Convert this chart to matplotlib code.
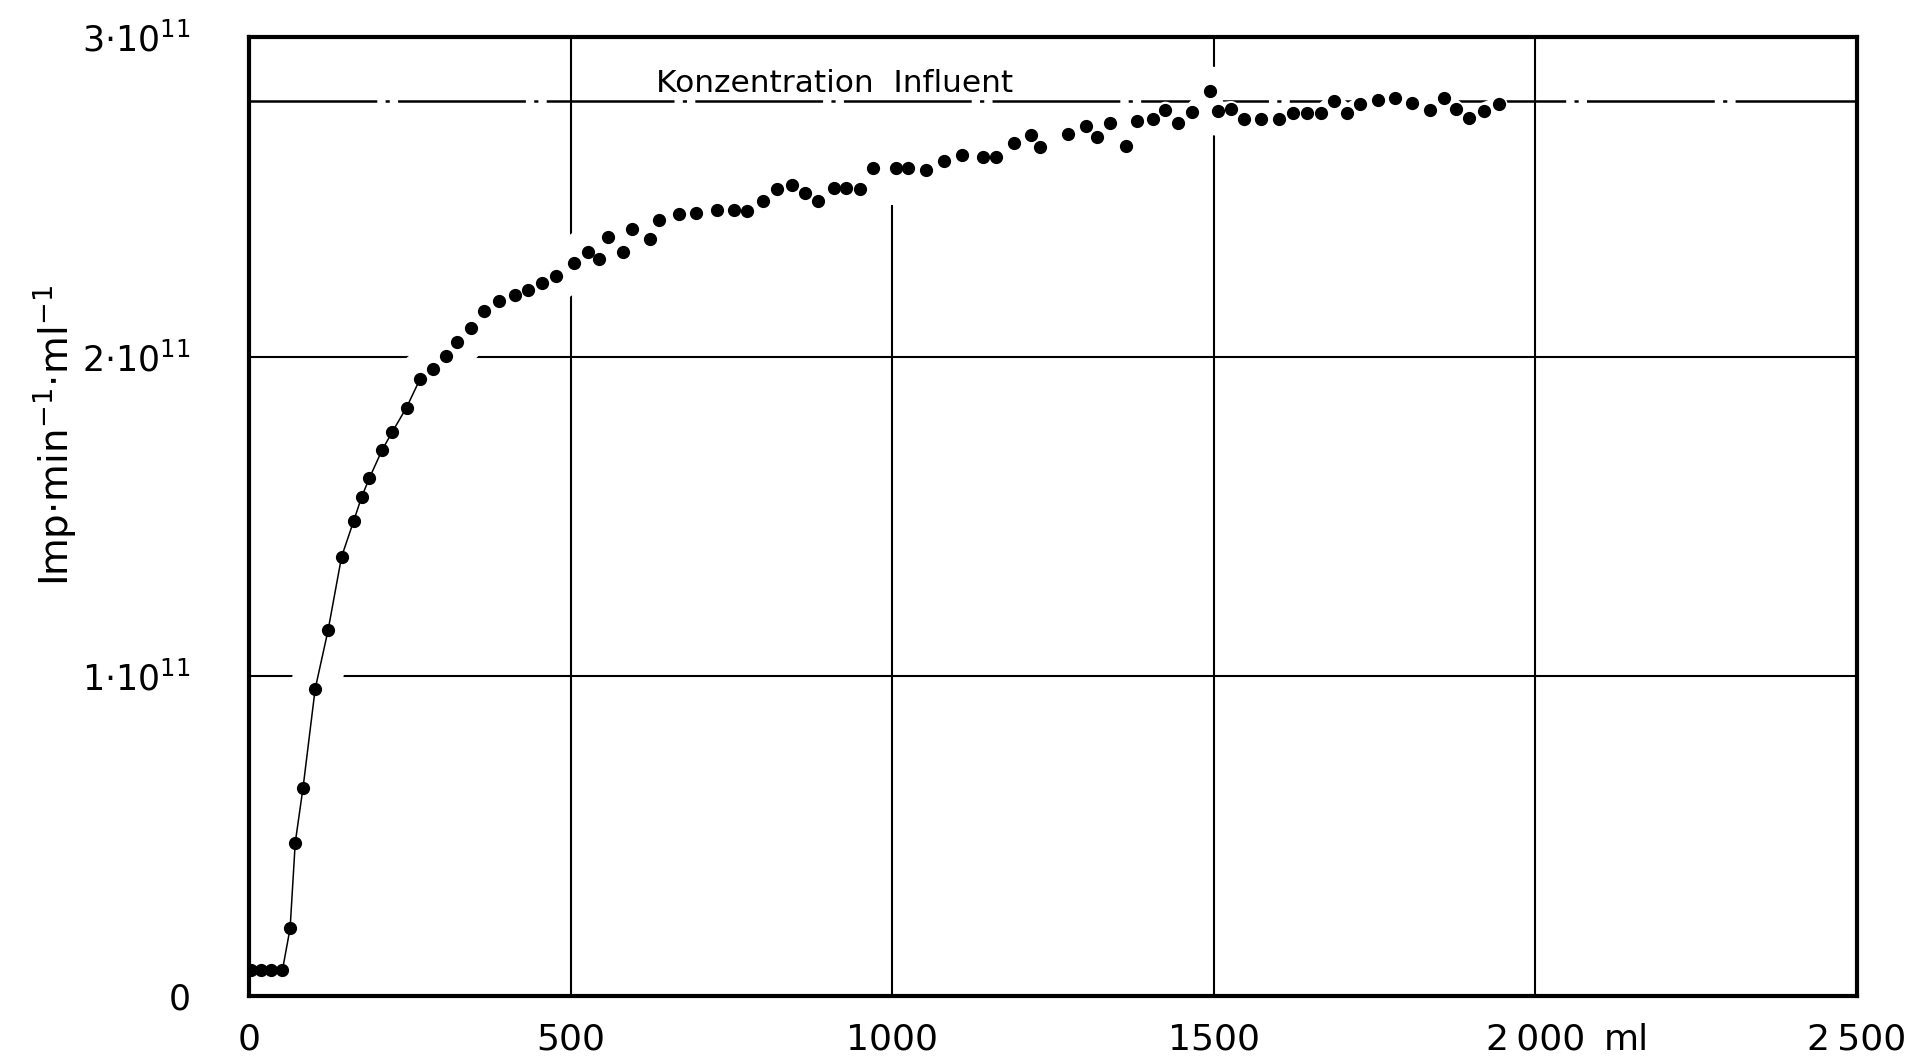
import numpy as np
import matplotlib
matplotlib.use("Agg")
import matplotlib.pyplot as plt

# ---- data (ml, Imp/min/ml in units of 1e11) ----
volume_ml = [3, 19, 34, 52, 64, 72, 84, 103, 123, 144, 163, 175, 187, 207, 223, 245, 266,
             286, 306, 323, 345, 365, 389, 413, 434, 455, 478, 505, 527, 545, 558, 581,
             596, 623, 638, 668, 695, 727, 754, 775, 799, 821, 845, 865, 884, 909, 929,
             950, 971, 1006, 1025, 1052, 1080, 1108, 1141, 1161, 1190, 1216, 1230, 1273,
             1301, 1319, 1339, 1363, 1381, 1406, 1425, 1445, 1466, 1494, 1507, 1527, 1547,
             1573, 1601, 1623, 1645, 1666, 1687, 1707, 1728, 1756, 1782, 1809, 1837, 1858,
             1877, 1897, 1920, 1944]
activity_e11 = [0.08, 0.08, 0.08, 0.08, 0.212, 0.48, 0.65, 0.961, 1.144, 1.374, 1.487, 1.56,
                1.619, 1.708, 1.765, 1.841, 1.93, 1.962, 2.001, 2.045, 2.09, 2.143, 2.174,
                2.193, 2.208, 2.231, 2.253, 2.292, 2.326, 2.307, 2.373, 2.328, 2.398, 2.368,
                2.427, 2.446, 2.448, 2.459, 2.459, 2.455, 2.487, 2.525, 2.536, 2.511, 2.488,
                2.528, 2.527, 2.524, 2.589, 2.591, 2.591, 2.584, 2.612, 2.631, 2.625, 2.625,
                2.669, 2.695, 2.656, 2.696, 2.721, 2.686, 2.730, 2.660, 2.738, 2.743, 2.772,
                2.730, 2.766, 2.830, 2.769, 2.774, 2.744, 2.743, 2.743, 2.761, 2.761, 2.761,
                2.799, 2.761, 2.789, 2.804, 2.810, 2.794, 2.772, 2.808, 2.774, 2.747, 2.769,
                2.789]
n_connected = 17          # first points joined by the drawn curve
influent_e11 = 2.8        # Konzentration Influent
influent_label = "Konzentration  Influent"
influent_label_x = 633

x_ticks = [0, 500, 1000, 1500, 2000, 2500]
x_ticklabels = ["0", "500", "1000", "1500", "2\u2009000", "2\u2009500"]
y_ticks = [0, 1, 2, 3]
y_ticklabels = ["0", r"$1{\cdot}10^{11}$", r"$2{\cdot}10^{11}$", r"$3{\cdot}10^{11}$"]
x_grid = [500, 1000, 1500, 2000]
x_grid_cut_top = [1000]
y_grid = [1, 2]
ylabel = r"Imp$\cdot$min$^{-1}$$\cdot$ml$^{-1}$"

plt.rcParams['font.family'] = ['DejaVu Sans']
plt.rcParams['lines.scale_dashes'] = False

X = np.array(volume_ml, float)
Y = np.array(activity_e11, float)

fig = plt.figure(figsize=(19.12, 10.64), dpi=100)
ax = fig.add_axes([0.1302, 0.0639, 0.9712 - 0.1302, 0.9652 - 0.0639])
ax.set_xlim(0, 2500)
ax.set_ylim(0, 3)

# grid lines
for gx in x_grid:
    top = 1.0
    if gx in x_grid_cut_top:
        top = (np.interp(gx, X, Y) - 0.12) / 3.0
    ax.axvline(gx, ymin=0, ymax=top, color='black', lw=1.5, zorder=1)
for gy in y_grid:
    ax.axhline(gy, color='black', lw=1.5, zorder=1)

# white band interrupting grid lines around the curve
ax.plot(X, Y, color='white', lw=36, solid_capstyle='round', solid_joinstyle='round', zorder=1.5)

# influent concentration dash-dot line
ax.axhline(influent_e11, color='black', lw=1.8, linestyle=(0, (92, 6, 3, 6)), zorder=2)
ax.plot(X, Y, color='white', lw=12, solid_capstyle='round', solid_joinstyle='round', zorder=2.2)
ax.text(influent_label_x, influent_e11 + 0.008, influent_label, fontsize=22.5,
        ha='left', va='bottom', zorder=5)

# connecting curve and points
ax.plot(X[:n_connected], Y[:n_connected], color='black', lw=1.1, zorder=3)
ax.plot(X, Y, linestyle='none', marker='o', markersize=8.5, color='black', zorder=4)

# frame
for s in ax.spines.values():
    s.set_linewidth(3)
    s.set_color('black')
    s.set_zorder(2.5)

ax.set_xticks(x_ticks)
ax.set_xticklabels(x_ticklabels, fontsize=26)
ax.set_yticks(y_ticks)
ax.set_yticklabels(y_ticklabels, fontsize=25)
ax.tick_params(axis='both', length=0)
ax.tick_params(axis='x', pad=19)
ax.tick_params(axis='y', pad=42)

ax.annotate("ml", xy=(2000, 0), xycoords=('data', 'axes fraction'),
            xytext=(49, -32), textcoords='offset points', fontsize=26,
            ha='left', va='center')

fig.text(55 / 1912, 1 - 436 / 1064, ylabel, rotation=90, fontsize=28,
         ha='center', va='center')

fig.savefig("out.png", dpi=100, facecolor='white')
